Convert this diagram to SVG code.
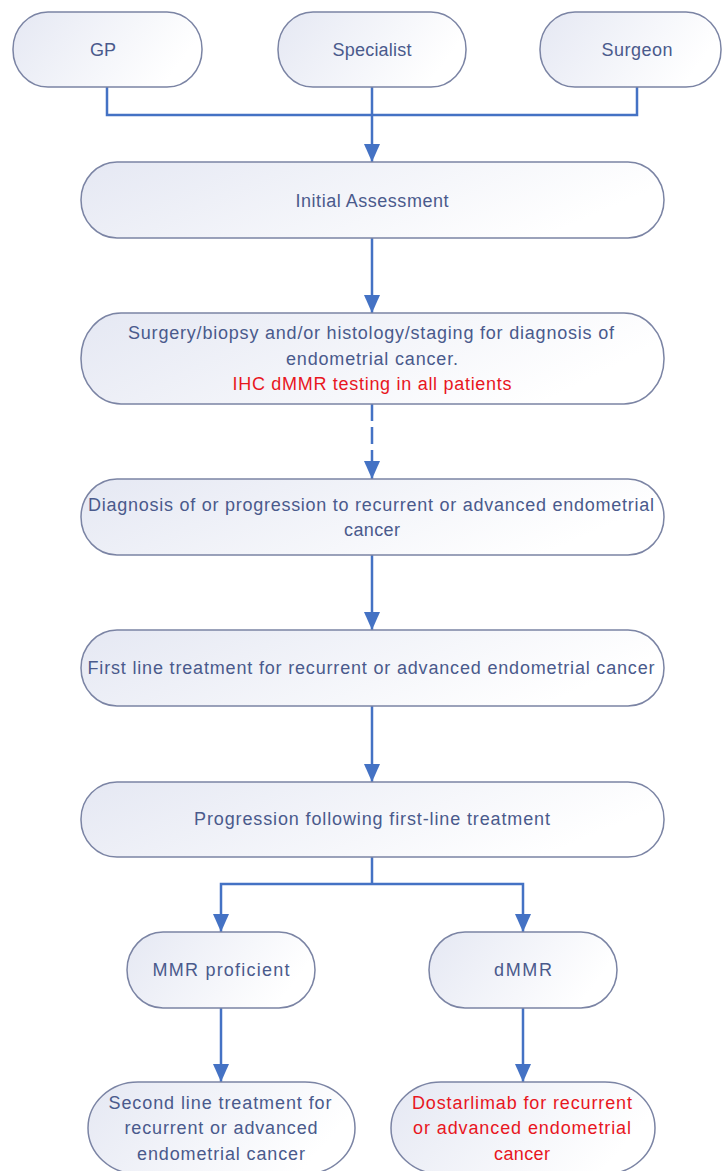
<svg xmlns="http://www.w3.org/2000/svg" width="723" height="1171" viewBox="0 0 723 1171">
<style>
.box{fill:url(#g);stroke:#7b84a4;stroke-width:1.5}
.t{font-family:"Liberation Sans",Arial,sans-serif;font-size:18px;fill:#4a5a8c;text-anchor:middle}
.r{fill:#e8161e}
.c{fill:none;stroke:#4472c4;stroke-width:2.5}
.a{marker-end:url(#ah)}
.d{stroke-dasharray:17 6}
</style>
<defs>
<linearGradient id="g" x1="0" y1="0" x2="1" y2="0.3">
<stop offset="0" stop-color="#e5e8f3"/>
<stop offset="1" stop-color="#ffffff"/>
</linearGradient>
<marker id="ah" viewBox="0 0 18 16" refX="18" refY="8" markerWidth="18" markerHeight="16" markerUnits="userSpaceOnUse" orient="auto">
<path d="M0,0 L18,8 L0,16 Z" fill="#4472c4"/>
</marker>
</defs>
<rect width="723" height="1171" fill="#ffffff"/>
<g id="connectors">
<path class="c" d="M107 87 V115 H637 V87"/>
<path class="c a" d="M372 87 V162"/>
<path class="c a" d="M372 238 V313"/>
<path class="c d a" d="M372 404 V479"/>
<path class="c a" d="M372 555 V630"/>
<path class="c a" d="M372 706 V782"/>
<path class="c" d="M372 857 V884"/>
<path class="c a" d="M372 884 H221 V932"/>
<path class="c a" d="M372 884 H523 V932"/>
<path class="c a" d="M221 1008 V1082"/>
<path class="c a" d="M523 1008 V1082"/>
</g>
<g id="gp"><rect class="box" x="13" y="12" width="189" height="75" rx="35" ry="37"/><text class="t" x="103" y="56">GP</text></g>
<g id="specialist"><rect class="box" x="278" y="12" width="188" height="75" rx="35" ry="37"/><text class="t" x="372" y="56" textLength="79" lengthAdjust="spacing">Specialist</text></g>
<g id="surgeon"><rect class="box" x="540" y="12" width="181" height="75" rx="35" ry="37"/><text class="t" x="637" y="56" textLength="71" lengthAdjust="spacing">Surgeon</text></g>
<g id="initial"><rect class="box" x="81" y="162" width="583" height="76" rx="36" ry="38"/><text class="t" x="372" y="207" textLength="153" lengthAdjust="spacing">Initial Assessment</text></g>
<g id="surgery"><rect class="box" x="81" y="313" width="583" height="91" rx="40" ry="45"/>
<text class="t" x="371" y="339" textLength="486" lengthAdjust="spacing">Surgery/biopsy and/or histology/staging for diagnosis of</text>
<text class="t" x="372" y="365" textLength="172" lengthAdjust="spacing">endometrial cancer.</text>
<text class="t r" x="372" y="390" textLength="279" lengthAdjust="spacing">IHC dMMR testing in all patients</text></g>
<g id="diagnosis"><rect class="box" x="81" y="479" width="583" height="76" rx="36" ry="38"/>
<text class="t" x="371" y="511" textLength="566" lengthAdjust="spacing">Diagnosis of or progression to recurrent or advanced endometrial</text>
<text class="t" x="372" y="536" textLength="56" lengthAdjust="spacing">cancer</text></g>
<g id="firstline"><rect class="box" x="81" y="630" width="583" height="76" rx="36" ry="38"/>
<text class="t" x="371" y="674" textLength="567" lengthAdjust="spacing">First line treatment for recurrent or advanced endometrial cancer</text></g>
<g id="progression"><rect class="box" x="81" y="782" width="583" height="75" rx="36" ry="37"/>
<text class="t" x="372" y="825" textLength="356" lengthAdjust="spacing">Progression following first-line treatment</text></g>
<g id="mmrp"><rect class="box" x="127" y="932" width="188" height="76" rx="36" ry="38"/>
<text class="t" x="221" y="976" textLength="137" lengthAdjust="spacing">MMR proficient</text></g>
<g id="dmmr"><rect class="box" x="429" y="932" width="188" height="76" rx="36" ry="38"/>
<text class="t" x="523" y="976" textLength="58" lengthAdjust="spacing">dMMR</text></g>
<g id="secondline"><rect class="box" x="88" y="1082" width="267" height="92" rx="50" ry="46"/>
<text class="t" x="220" y="1109" textLength="223" lengthAdjust="spacing">Second line treatment for</text>
<text class="t" x="221" y="1134" textLength="193" lengthAdjust="spacing">recurrent or advanced</text>
<text class="t" x="221" y="1160" textLength="168" lengthAdjust="spacing">endometrial cancer</text></g>
<g id="dostarlimab"><rect class="box" x="391" y="1082" width="264" height="92" rx="50" ry="46"/>
<text class="t r" x="522" y="1109" textLength="220" lengthAdjust="spacing">Dostarlimab for recurrent</text>
<text class="t r" x="522" y="1134" textLength="218" lengthAdjust="spacing">or advanced endometrial</text>
<text class="t r" x="522" y="1160" textLength="56" lengthAdjust="spacing">cancer</text></g>
</svg>
